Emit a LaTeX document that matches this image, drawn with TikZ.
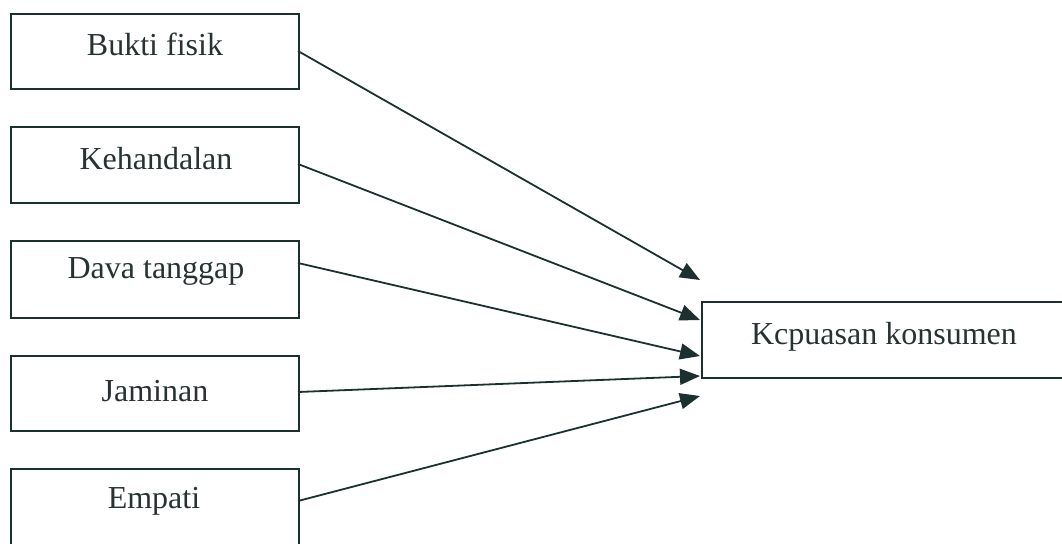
\documentclass[tikz,border=0pt]{standalone}
\usepackage{fontspec}
\setmainfont{Liberation Serif}
\usetikzlibrary{arrows.meta}
\definecolor{ink}{RGB}{28,48,48}
\definecolor{txt}{RGB}{40,50,50}
\begin{document}
\begin{tikzpicture}[x=0.5pt,y=-0.5pt,
  varbox/.style={draw=ink,line width=1.1pt,rectangle,inner sep=0pt,anchor=north west},
  lbl/.style={text=txt,font=\fontsize{16pt}{19pt}\selectfont,inner sep=0pt},
  link/.style={draw=ink,line width=0.9pt,-{Triangle[length=10pt,width=8pt]}}]
\useasboundingbox (0,0) rectangle (1062,543);
% independent variables
\node[varbox,minimum width=288*0.5pt,minimum height=75*0.5pt] (b1) at (10,13) {};
\node[varbox,minimum width=288*0.5pt,minimum height=76*0.5pt] (b2) at (10,126) {};
\node[varbox,minimum width=288*0.5pt,minimum height=77*0.5pt] (b3) at (10,240) {};
\node[varbox,minimum width=288*0.5pt,minimum height=75*0.5pt] (b4) at (10,355) {};
\node[varbox,minimum width=288*0.5pt,minimum height=80*0.5pt] (b5) at (10,468) {};
% dependent variable
\node[varbox,minimum width=370*0.5pt,minimum height=76*0.5pt] (k) at (701,301) {};
% labels
\node[lbl] (l1) at (155,44) {Bukti fisik};
\node[lbl] (l2) at (156,159) {Kehandalan};
\node[lbl] (l3) at (156,271) {Dava tanggap};
\node[lbl] (l4) at (155,391) {Jaminan};
\node[lbl] (l5) at (154,501) {Empati};
\node[lbl] (lk) at (884,337) {Kcpuasan konsumen};
% arrow end points
\coordinate (s1) at (298,51);
\coordinate (s2) at (298,164);
\coordinate (s3) at (298,263);
\coordinate (s4) at (298,392);
\coordinate (s5) at (298,501);
\coordinate (t1) at (700,280);
\coordinate (t2) at (700,320);
\coordinate (t3) at (700,356);
\coordinate (t4) at (700,376);
\coordinate (t5) at (700,396);
\draw[link] (s1) -- (t1);
\draw[link] (s2) -- (t2);
\draw[link] (s3) -- (t3);
\draw[link] (s4) -- (t4);
\draw[link] (s5) -- (t5);
\end{tikzpicture}
\end{document}
